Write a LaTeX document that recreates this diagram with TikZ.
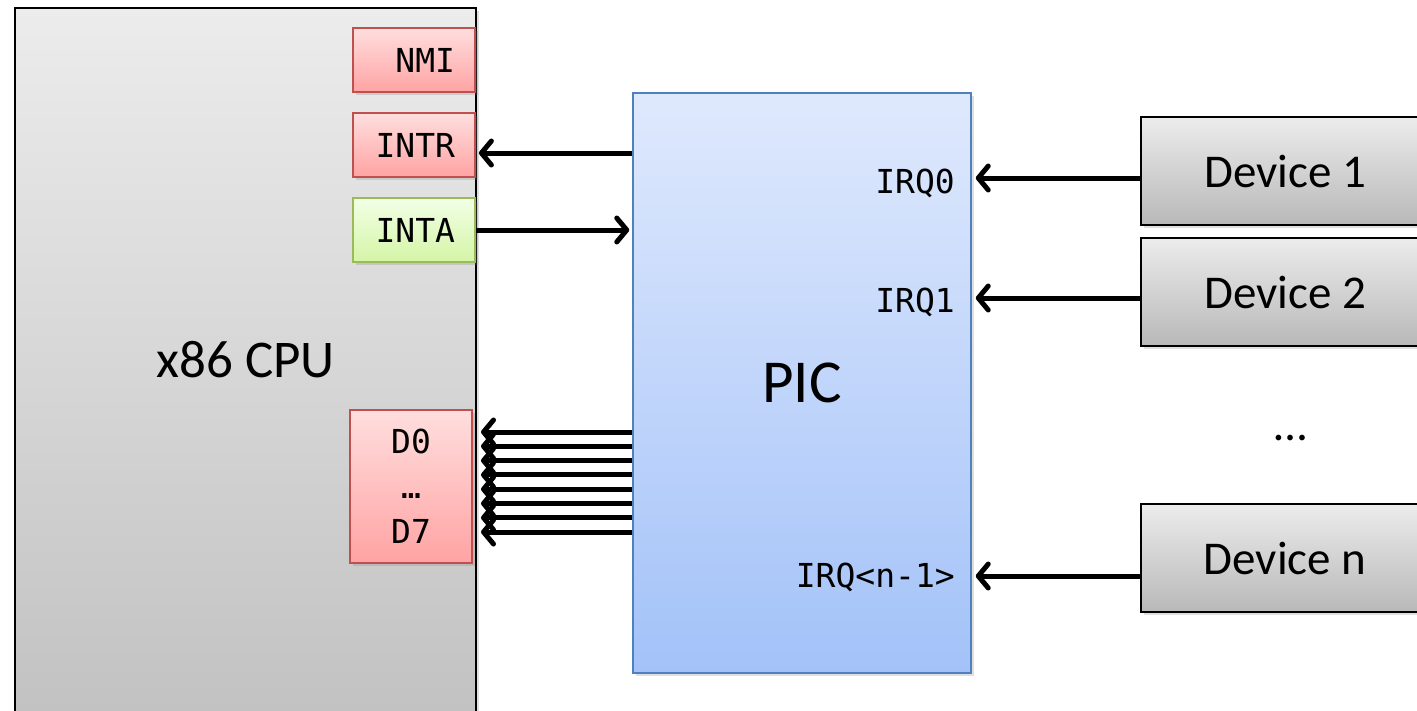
\documentclass[tikz,border=0pt]{standalone}
\usepackage{fontspec}
\setmainfont{Carlito}
\setmonofont{DejaVu Sans Mono}
\usetikzlibrary{arrows.meta,shadows}

\definecolor{cpuTop}{HTML}{ECECEC}
\definecolor{cpuBot}{HTML}{C2C2C2}
\definecolor{redTop}{HTML}{FFDEDE}
\definecolor{redBot}{HTML}{FFA3A3}
\definecolor{redEdge}{HTML}{C0504D}
\definecolor{greenTop}{HTML}{F2FFE6}
\definecolor{greenBot}{HTML}{D4F5A6}
\definecolor{greenEdge}{HTML}{9BBB59}
\definecolor{picTop}{HTML}{DFE9FD}
\definecolor{picBot}{HTML}{A3C2F8}
\definecolor{picEdge}{HTML}{4F81BD}

\begin{document}
\begin{tikzpicture}[x=1pt, y=-1pt,
  shade/.style={drop shadow={shadow xshift=3pt, shadow yshift=-3pt, opacity=0.25}},
  pinbox/.style={rectangle, shade, line width=1.8pt, draw=redEdge, top color=redTop, bottom color=redBot,
    text width=82pt, inner xsep=20pt, align=right, minimum height=64pt,
    font=\ttfamily\fontsize{33}{38}\selectfont, text height=24pt, text depth=0pt},
  devbox/.style={rectangle, shade, line width=1.8pt, draw=black, top color=cpuTop, bottom color=cpuBot!95!black,
    minimum width=288pt, minimum height=108pt, font=\fontsize{47}{52}\selectfont},
  irqlbl/.style={anchor=east, inner sep=0pt, font=\ttfamily\fontsize{33}{38}\selectfont, text height=24pt, text depth=0pt},
  sig/.style={line width=5pt, -{Straight Barb[length=10pt,width=24pt,round]}}]
\useasboundingbox (0,0) rectangle (1417,710);
\clip (0,0) rectangle (1417,710);

% CPU and its pins
\node[rectangle, shade, line width=2pt, draw=black, top color=cpuTop, bottom color=cpuBot,
  minimum width=461pt, minimum height=704pt, font=\fontsize{53}{58}\selectfont] (cpu) at (245.5,360) {x86 CPU};
\node[pinbox] (nmi) at (414,60) {NMI};
\node[pinbox] (intr) at (414,145) {INTR};
\node[pinbox, draw=greenEdge, top color=greenTop, bottom color=greenBot] (inta) at (414,230) {INTA};
\node[rectangle, shade, line width=1.8pt, draw=redEdge, top color=redTop, bottom color=redBot,
  minimum width=122pt, minimum height=153pt, align=center,
  font=\ttfamily\fontsize{33}{45}\selectfont] (dbus) at (411,486.5) {D0\\…\\D7};

% interrupt controller
\node[rectangle, shade, line width=1.5pt, draw=picEdge, top color=picTop, bottom color=picBot,
  minimum width=338pt, minimum height=580pt, font=\fontsize{61}{66}\selectfont] (pic) at (802,383) {PIC};
\node[irqlbl] (irq0) at (955,181) {IRQ0};
\node[irqlbl] (irq1) at (955,300) {IRQ1};
\node[irqlbl] (irqn) at (955,575) {IRQ<n-1>};

% devices
\node[devbox] (dev1) at (1285,171) {Device 1};
\node[devbox] (dev2) at (1285,292) {Device 2};
\node[font=\fontsize{47}{52}\selectfont] (devdots) at (1291,438) {…};
\node[devbox] (devn) at (1285,558) {Device n};

% signals
\draw[sig] (pic.west |- 0,153) -- ([xshift=3pt]intr.east |- 0,153);
\draw[sig] (inta.east) -- ([xshift=-3pt]pic.west |- inta);
\foreach \i in {0,...,7}
  \draw[sig] (pic.west |- 0,432+\i*14.29) -- ([xshift=4pt]cpu.east |- 0,432+\i*14.29);
\draw[sig] (dev1.west |- 0,178) -- ([xshift=4pt]pic.east |- 0,178);
\draw[sig] (dev2.west |- 0,298) -- ([xshift=4pt]pic.east |- 0,298);
\draw[sig] (devn.west |- 0,576) -- ([xshift=4pt]pic.east |- 0,576);
\end{tikzpicture}
\end{document}
